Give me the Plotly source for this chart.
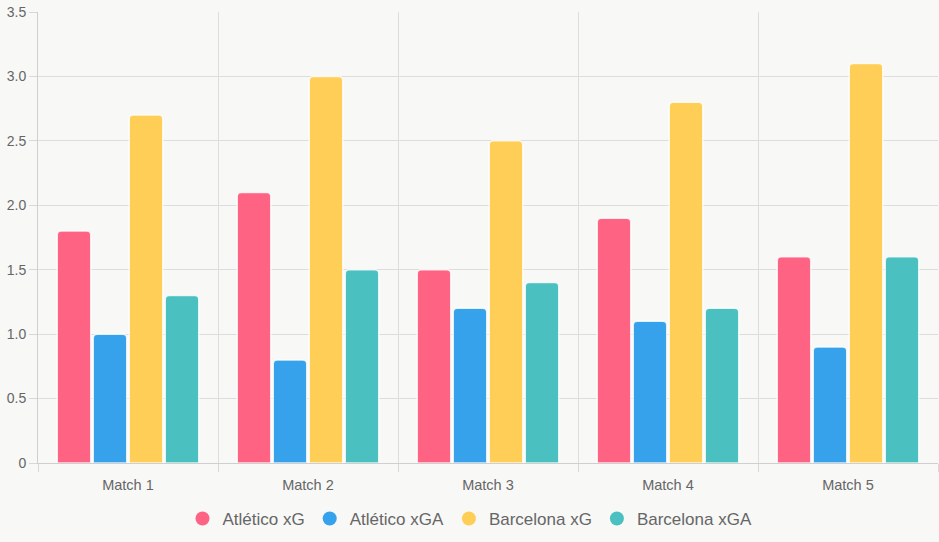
import plotly.graph_objects as go

matches = ["Match 1", "Match 2", "Match 3", "Match 4", "Match 5"]
atl_xg = [1.8, 2.1, 1.5, 1.9, 1.6]
atl_xga = [1.0, 0.8, 1.2, 1.1, 0.9]
bar_xg = [2.7, 3.0, 2.5, 2.8, 3.1]
bar_xga = [1.3, 1.5, 1.4, 1.2, 1.6]
series_names = ["Atlético xG", "Atlético xGA", "Barcelona xG", "Barcelona xGA"]
colors = ["#FF6384", "#36A2EB", "#FFCE56", "#4BC0C0"]
y_ticks = [0, 0.5, 1.0, 1.5, 2.0, 2.5, 3.0, 3.5]
y_ticktext = ["0", "0.5", "1.0", "1.5", "2.0", "2.5", "3.0", "3.5"]

fig = go.Figure()
for name, vals, col in zip(series_names, [atl_xg, atl_xga, bar_xg, bar_xga], colors):
    fig.add_trace(go.Bar(
        x=matches, y=vals, name=name, showlegend=False,
        marker=dict(color=col, line=dict(color="rgba(255,255,255,0.8)", width=1.5)),
        hoverinfo="x+y+name",
    ))
for name, col in zip(series_names, colors):
    fig.add_trace(go.Scatter(
        x=[None], y=[None], mode="markers", name=name,
        marker=dict(symbol="circle", size=14, color=col),
    ))

fig.update_layout(
    width=939, height=542,
    margin=dict(l=38, r=1, t=12, b=79, autoexpand=False),
    paper_bgcolor="#f8f8f6", plot_bgcolor="#f8f8f6",
    barmode="group", bargap=0.2, bargroupgap=0.07, barcornerradius=4,
    font=dict(family="Liberation Sans, Arial, sans-serif", color="#666666", size=14),
    legend=dict(orientation="h", x=0.48, xanchor="center",
                y=-0.124, yanchor="middle",
                font=dict(size=17, color="#666666"), itemwidth=30,
                bgcolor="rgba(0,0,0,0)", tracegroupgap=0),
    xaxis=dict(
        tickson="boundaries", ticks="outside", ticklen=8, tickcolor="#d8d8d8",
        ticklabelstandoff=9,
        showgrid=True, gridcolor="#dddddd", gridwidth=1,
        showline=True, linecolor="#cfcfcf", linewidth=1,
        tickfont=dict(size=14.5, color="#666666"),
    ),
    yaxis=dict(
        range=[0, 3.5], tickvals=y_ticks, ticktext=y_ticktext,
        ticks="outside", ticklen=8, tickcolor="#d8d8d8",
        showgrid=True, gridcolor="#dddddd", gridwidth=1,
        showline=True, linecolor="#cfcfcf", linewidth=1,
        zeroline=False, tickfont=dict(size=14, color="#666666"),
    ),
)

fig.write_html("out.html")
